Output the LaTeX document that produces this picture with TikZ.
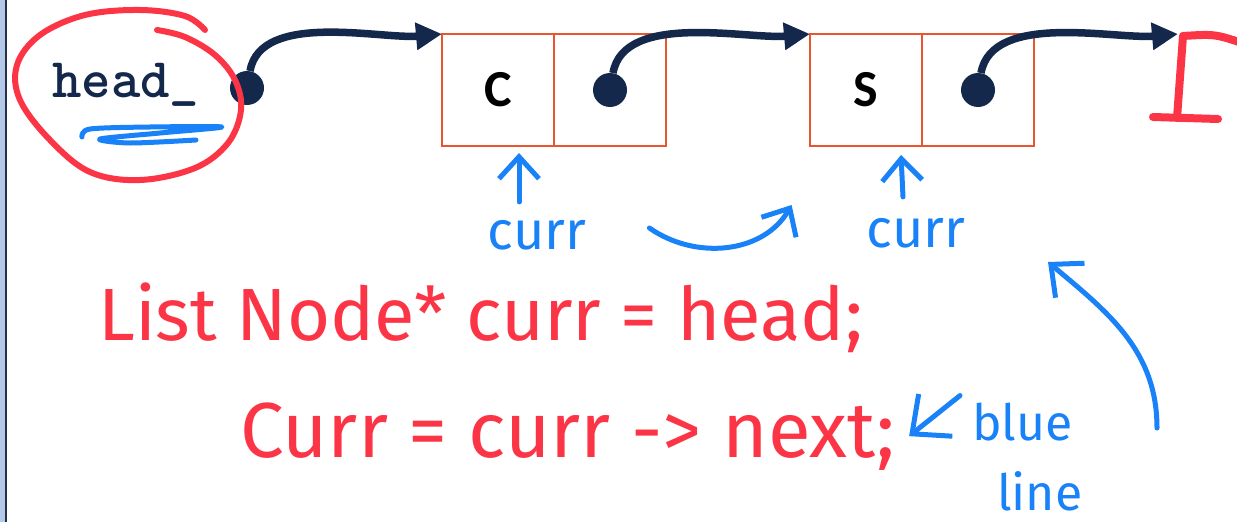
\documentclass[tikz,border=0pt]{standalone}
\usepackage{fontspec}
\usepackage{tikz}
\usetikzlibrary{arrows.meta, positioning, calc}
\newfontfamily\handfont{Fira Sans}
\newfontfamily\cellfont{Carlito}
\definecolor{navy}{HTML}{14284B}
\definecolor{boxred}{HTML}{E9552F}
\definecolor{inkred}{HTML}{FC3546}
\definecolor{inkblue}{HTML}{1A82F8}
\definecolor{barblue}{HTML}{B4C8E8}
\definecolor{barline}{HTML}{22304A}
\tikzset{
    cell/.style={draw=boxred, line width=2pt, minimum width=112pt,
        minimum height=112pt, inner sep=0pt, outer sep=0pt,
        font=\cellfont\bfseries\fontsize{52}{54}\selectfont},
    ptr/.style={circle, fill=navy, minimum size=34pt, inner sep=0pt},
    link/.style={-{Triangle[length=26pt, width=26pt]}, line width=7.5pt, draw=navy},
    redink/.style={draw=inkred, line width=8pt, line cap=round, line join=round},
    blueink/.style={draw=inkblue, line width=5pt, line cap=round, line join=round},
    bluearrow/.style={blueink, -{Straight Barb[length=22pt, width=40pt]}},
    redtext/.style={text=inkred, inner sep=0pt, anchor=base west},
    bluetext/.style={text=inkblue, inner sep=0pt,
        font=\handfont\fontsize{54}{58}\selectfont},
}

\begin{document}
\begin{tikzpicture}[x=1pt, y=1pt]
        \useasboundingbox (0,0) rectangle (1237,-522);
        \fill[white] (0,0) rectangle (1237,-522);

        % Seitenrand
        \fill[barblue] (0,0) rectangle (5,-522);
        \draw[barline, line width=2pt] (6,0) -- (6,-522);

        % Liste
        \node[text=navy, inner sep=0pt, anchor=base west,
            font=\ttfamily\bfseries\fontsize{56}{58}\selectfont] (head) at (52,-97) {head\_};
        \node[ptr] (hdot) at (247,-88) {};

        \node[cell] (cval) at (498,-90) {C};
        \node[cell, right=0pt of cval] (cnext) {};
        \node[ptr] (cdot) at (cnext) {};

        \node[cell] (sval) at (866,-90) {S};
        \node[cell, right=0pt of sval] (snext) {};
        \node[ptr] (sdot) at (snext) {};

        \coordinate (nullpt) at (1178,-34);

        \draw[link] (hdot) to[out=80, in=185, looseness=0.8] (cval.north west);
        \draw[link] (cdot) to[out=80, in=185, looseness=0.8] (sval.north west);
        \draw[link] (sdot) to[out=80, in=185, looseness=0.8] (nullpt);

        % NULL
        \draw[redink] ([xshift=5pt,yshift=-2pt]nullpt) .. controls (1215,-34) .. (1245,-44);
        \draw[redink] ([xshift=5pt,yshift=-2pt]nullpt) -- (1177,-118);
        \draw[redink] (1153,-117) -- (1218,-119);

        % Markierung head_
        \draw[redink, line width=6pt] plot[smooth, tension=0.6] coordinates {
            (157,-30) (185,-37) (215,-55) (235,-80) (241,-110) (228,-143)
            (195,-168) (140,-180) (90,-172) (50,-140) (20,-100) (17,-65)
            (40,-35) (85,-15) (140,-10) (185,-16) (205,-30)};
        \draw[blueink] plot[smooth, tension=0.5] coordinates {
            (82,-137) (90,-129) (150,-127) (222,-127) (160,-133) (100,-139)
            (130,-143) (196,-140)};

        % curr
        \node[bluetext] (cur1) at (537,-235) {curr};
        \node[bluetext] (cur2) at (916,-233) {curr};
        \draw[bluearrow] ([xshift=-18pt,yshift=18pt]cur1.north) -- ([xshift=21pt,yshift=-7pt]cval.south);
        \draw[bluearrow] ([xshift=-13pt,yshift=21pt]cur2.north) -- ([xshift=35pt,yshift=-9pt]sval.south);
        \draw[bluearrow] ([xshift=63pt,yshift=7pt]cur1.east) to[out=-35, in=-120]
            ([xshift=-75pt,yshift=28pt]cur2.west);

        % Code
        \node[redtext, font=\handfont\fontsize{74}{80}\selectfont] (line1) at (98,-340)
            {List Node* curr = head;};
        \node[redtext, font=\handfont\fontsize{78}{84}\selectfont] (line2) at (240,-457)
            {Curr = curr -> next;};

        % blue line
        \node[bluetext, anchor=base west, font=\handfont\fontsize{50}{54}\selectfont] (blue) at (972,-440) {blue};
        \node[bluetext, anchor=base west, font=\handfont\fontsize{50}{54}\selectfont] (line) at (997,-510) {line};
        \draw[blueink, -{Straight Barb[length=30pt, width=54pt]}]
            ([xshift=-12pt,yshift=26pt]blue.west) -- ([xshift=14pt]line2.east);

        \coordinate (arcfrom) at (1157,-428);
        \coordinate (arcto) at (1048,-262);
        \draw[blueink, -{Straight Barb[length=25pt, width=45pt]}]
            (arcfrom) to[out=90, in=-40] (arcto);
    \end{tikzpicture}
\end{document}
